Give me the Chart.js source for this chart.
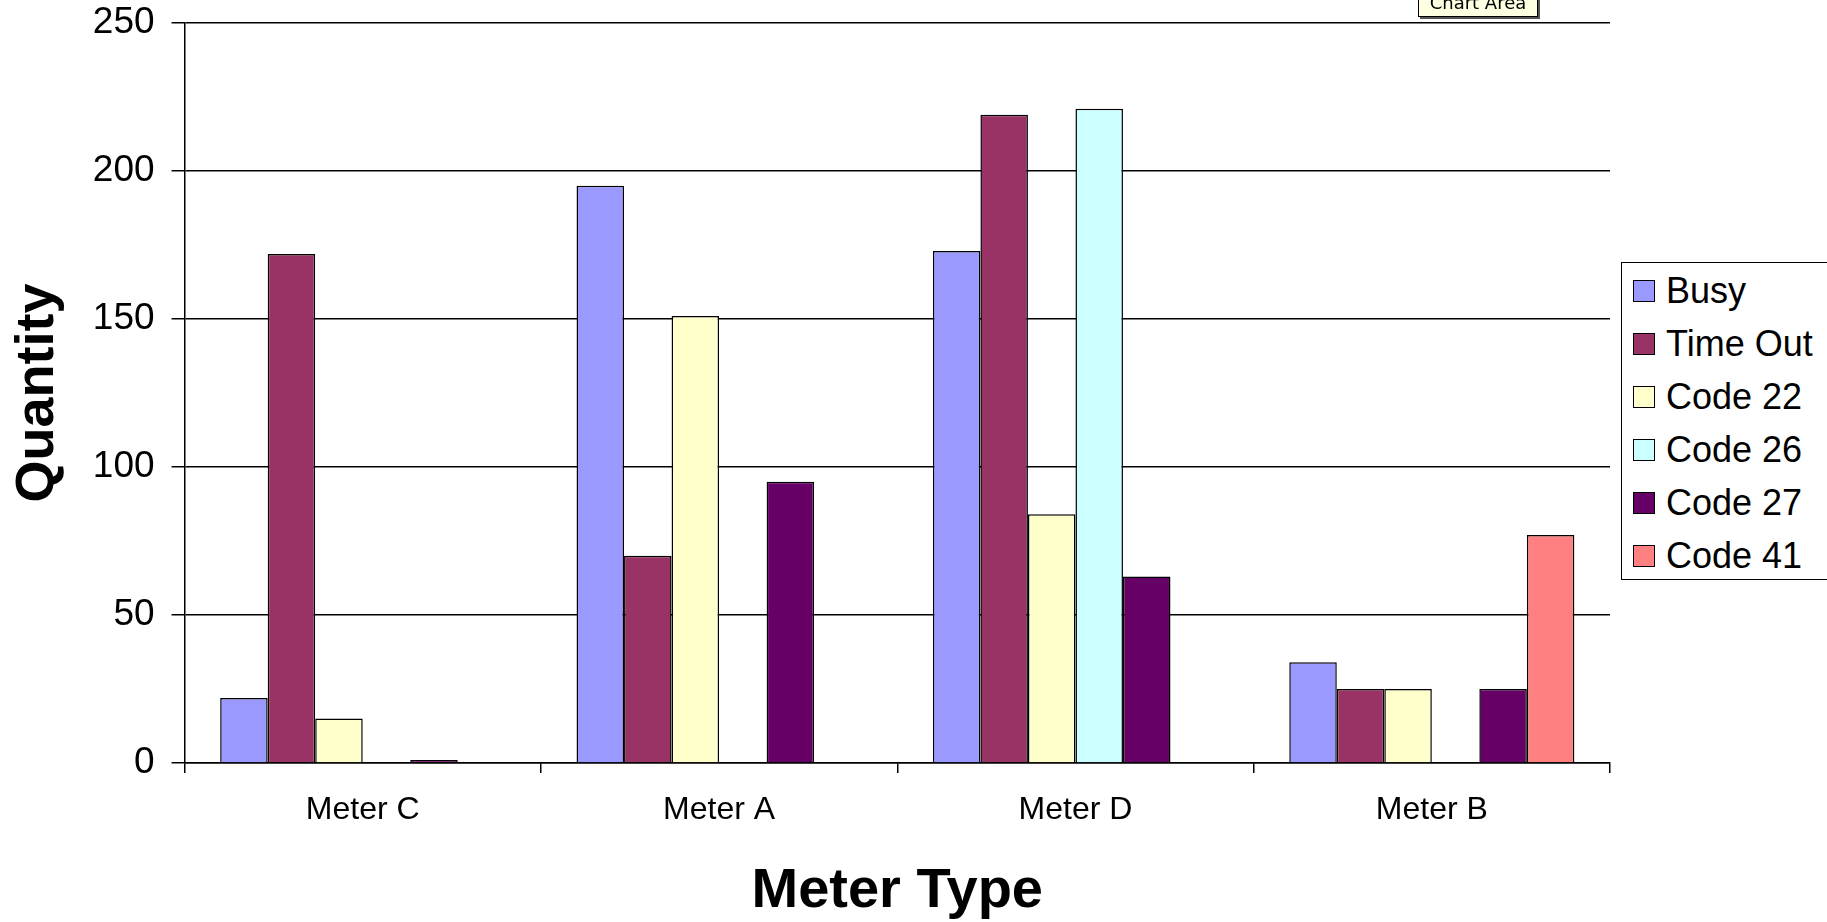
<!DOCTYPE html>
<html>
<head>
<meta charset="utf-8">
<script src="https://cdn.jsdelivr.net/npm/chart.js@4"></script>
<style>
body { margin: 0; background: #fff; overflow: hidden; }
#wrap { position: relative; width: 1827px; height: 922px; }
#legend { position: absolute; left: 1621px; top: 262px; width: 230px; height: 316px; border: 1.5px solid #000; background: #fff; font-family: Arial, "Liberation Sans", sans-serif; }
.item { position: absolute; left: 11px; height: 40px; display: flex; align-items: center; font-size: 36px; color: #000; }
.sw { width: 20px; height: 20px; border: 1.5px solid #000; margin-right: 11px; }
#tip { position: absolute; left: 1418px; top: -11px; width: 118px; height: 26px; background: #ffffe1; border: 1px solid #000; box-shadow: 2px 2px 0 #555; font-family: Tahoma, "DejaVu Sans", sans-serif; font-size: 18px; text-align: center; line-height: 26px; }
</style>
</head>
<body>
<div id="wrap">
  <canvas id="ErrorChartjs"></canvas>
  <div id="legend"></div>
  <div id="tip">Chart Area</div>
</div>
<script>
const meterLabels = ['Meter C', 'Meter A', 'Meter D', 'Meter B'];
const seriesNames = ['Busy', 'Time Out', 'Code 22', 'Code 26', 'Code 27', 'Code 41'];

const busyValues = [22, 195, 173, 34];
const timeOutValues = [172, 70, 219, 25];
const code22Values = [15, 151, 84, 25];
const code26Values = [null, null, 221, null];
const code27Values = [1, 95, 63, 25];
const code41Values = [null, null, null, 77];

const yTicks = [0, 50, 100, 150, 200, 250];

const seriesColors = ['#9999ff', '#993366', '#ffffcc', '#ccffff', '#660066', '#ff8080'];
const seriesValues = [busyValues, timeOutValues, code22Values, code26Values, code27Values, code41Values];

const fontFamily = 'Arial, "Liberation Sans", sans-serif';

const ErrorChart = document.getElementById('ErrorChartjs').getContext('2d');

new Chart(ErrorChart, {
    type: 'bar',
    data: {
        labels: meterLabels,
        datasets: seriesNames.map(function (name, i) {
            return {
                label: name,
                data: seriesValues[i],
                backgroundColor: seriesColors[i],
                borderColor: '#000',
                borderWidth: 1.5,
                categoryPercentage: 0.8,
                barPercentage: 1.0
            };
        })
    },
    options: {
        responsive: true,
        maintainAspectRatio: false,
        animation: false,
        layout: { padding: { left: 0, right: 217, top: 23, bottom: 0 } },
        plugins: { legend: { display: false }, tooltip: { enabled: false } },
        scales: {
            x: {
                grid: { display: true, drawOnChartArea: false, drawTicks: true, tickLength: 10, color: '#000', lineWidth: 1.5, offset: true },
                border: { color: '#000', width: 1.5 },
                ticks: { color: '#000', padding: 18, font: { family: fontFamily, size: 32 } },
                title: { display: true, text: 'Meter Type', color: '#000', padding: { top: 13, bottom: 0 }, font: { family: fontFamily, size: 56, weight: 'bold', lineHeight: 1.1 } }
            },
            y: {
                min: yTicks[0],
                max: yTicks[yTicks.length - 1],
                afterBuildTicks: function (axis) { axis.ticks = yTicks.map(function (v) { return { value: v }; }); },
                grid: { color: '#000', lineWidth: 1.5, tickLength: 13 },
                border: { color: '#000', width: 1.5 },
                ticks: { color: '#000', padding: 17, font: { family: fontFamily, size: 37, lineHeight: 0.2 } },
                title: { display: true, text: 'Quantity', color: '#000', padding: { top: 6, bottom: 5 }, font: { family: fontFamily, size: 54, weight: 'bold' } }
            }
        }
    }
});

// legend box like the Excel one
const legendBox = document.getElementById('legend');
seriesNames.forEach(function (name, i) {
    const row = document.createElement('div');
    row.className = 'item';
    row.style.top = (8 + i * 53) + 'px';
    const sw = document.createElement('span');
    sw.className = 'sw';
    sw.style.background = seriesColors[i];
    row.appendChild(sw);
    row.appendChild(document.createTextNode(name));
    legendBox.appendChild(row);
});
</script>
</body>
</html>
